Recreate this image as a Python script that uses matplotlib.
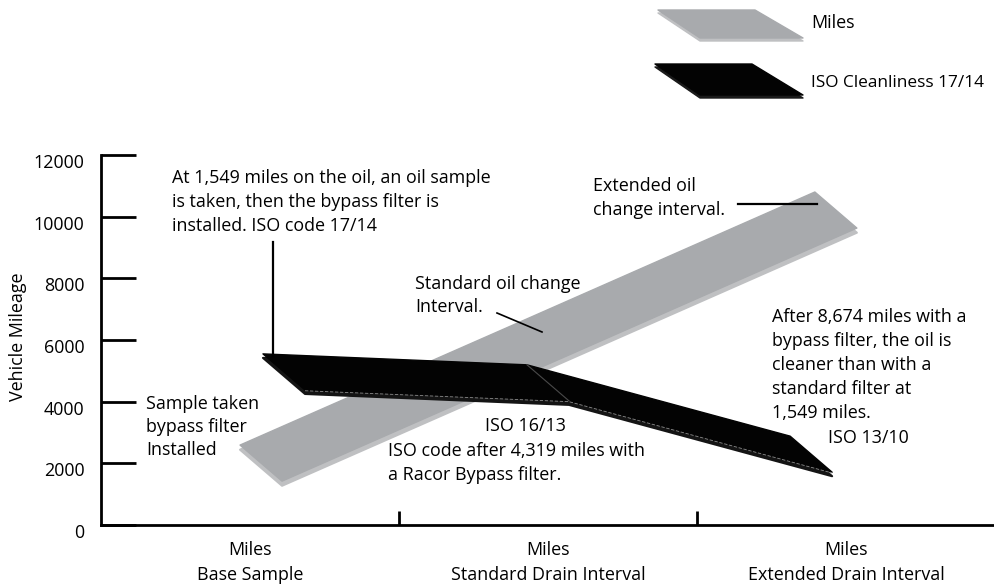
import numpy as np
import matplotlib.pyplot as plt
from matplotlib.patches import Polygon
from matplotlib.transforms import ScaledTranslation

plt.rcParams['font.family'] = ['Open Sans', 'DejaVu Sans']
FS = 12.9
plt.rcParams['font.size'] = FS

# Daten
categories = ["Miles\nBase Sample", "Miles\nStandard Drain Interval", "Miles\nExtended Drain Interval"]
miles = [1850, 6100, 10360]          # graues Band
iso_clean = [5010, 4610, 1990]       # schwarzes Band (ISO Cleanliness)
yticks = [0, 2000, 4000, 6000, 8000, 10000, 12000]

W, H = 995, 586
fig = plt.figure(figsize=(W / 100, H / 100), dpi=100)
ax = fig.add_axes([101 / W, 61 / H, 894 / W, 370 / H])
ax.set_xlim(-0.5, 2.5)
ax.set_ylim(0, 12000)

# Tiefe des 3D-Bandes (Daten-Einheiten)
DX, DY = 0.141, 1170


def ribbon(xs, ys, inset_l, inset_r, top, rim, thick, z):
    xs = np.array(xs, float)
    ys = np.array(ys, float)
    x0 = xs[0] + inset_l
    x1 = xs[-1] - inset_r
    cx = np.concatenate([[x0], xs[1:-1], [x1]])
    cy = np.interp(cx, xs, ys)
    fx, fy = cx + DX / 2, cy - DY / 2
    bx, by = cx - DX / 2, cy + DY / 2
    px = np.concatenate([bx, fx[::-1]])
    py = np.concatenate([by, fy[::-1]])
    ax.add_patch(Polygon(np.c_[px, py - thick], closed=True, fc=rim, ec=rim,
                         lw=1.5, joinstyle='round', zorder=z))
    ax.add_patch(Polygon(np.c_[px, py], closed=True, fc=top, ec=top,
                         lw=1.0, joinstyle='round', zorder=z + 0.1))
    return bx, by, fx, fy


ribbon([0, 1, 2], miles, 0.037, 0.034, '#a8aaad', '#bfc0c2', 150, 2)
bx, by, fx, fy = ribbon([0, 1, 2], iso_clean, 0.114, 0.117, '#030303', '#141414', 130, 3)
# Knick im schwarzen Band
ax.plot([bx[1], fx[1]], [by[1], fy[1]], color='#4a4a4a', lw=0.8, zorder=3.5)
ax.plot(fx, fy - 25, color='#8a8a8a', lw=0.6, ls=(0, (4, 2)), zorder=3.5)

# Achsen
for s in ['top', 'right']:
    ax.spines[s].set_visible(False)
ax.spines['left'].set_linewidth(2)
ax.spines['bottom'].set_linewidth(2)
ax.spines['left'].set_bounds(0, 12000)
ax.set_yticks(yticks)
ax.set_yticklabels([str(v) for v in yticks])
ax.tick_params(axis='y', direction='in', length=25, width=2, pad=12, labelsize=FS)
ax.set_xticks([0.5, 1.5])
ax.set_xticklabels([])
ax.tick_params(axis='x', direction='in', length=10, width=2)
for lab in ax.get_yticklabels():
    lab.set_transform(lab.get_transform() + ScaledTranslation(0, -0.06, fig.dpi_scale_trans))
    lab.set_verticalalignment('center_baseline')

for i, c in enumerate(categories):
    top, bot = c.split("\n")
    fig.text((101 + 298 * (i + 0.5)) / W, 1 - 555 / H, top, ha='center', va='baseline', fontsize=FS)
    fig.text((101 + 298 * (i + 0.5)) / W, 1 - 580 / H, bot, ha='center', va='baseline', fontsize=FS)

fig.text(18 / W, 1 - 337 / H, "Vehicle Mileage", rotation=90, ha='center', va='center', fontsize=FS)


def lines(x, base, txt, step=24, ha='left'):
    for k, t in enumerate(txt.split("\n")):
        fig.text(x / W, 1 - (base + k * step) / H, t, ha=ha, va='baseline', fontsize=FS)


def seg(x0, y0, x1, y1, lw=1.6):
    fig.add_artist(plt.Line2D([x0 / W, x1 / W], [1 - y0 / H, 1 - y1 / H], color='black', lw=lw))


lines(172, 183, "At 1,549 miles on the oil, an oil sample\nis taken, then the bypass filter is\ninstalled. ISO code 17/14")
seg(273, 242, 273, 356)
lines(593, 191, "Extended oil\nchange interval.")
seg(738, 204, 817, 204)
lines(415, 289, "Standard oil change\nInterval.", step=23)
seg(497, 313, 542, 332, lw=1.2)
lines(772, 322, "After 8,674 miles with a\nbypass filter, the oil is\ncleaner than with a\nstandard filter at\n1,549 miles.")
lines(828, 443, "ISO 13/10")
lines(146, 409, "Sample taken\nbypass filter\nInstalled", step=23)
lines(485, 431, "ISO 16/13")
lines(388, 456, "ISO code after 4,319 miles with\na Racor Bypass filter.")

# Legende
def slab(pts, top, rim, thick):
    p = np.array(pts, float)
    pr = p.copy()
    pr[:, 1] += thick
    for q, col in [(pr, rim), (p, top)]:
        fig.add_artist(Polygon(np.c_[q[:, 0] / W, 1 - q[:, 1] / H], closed=True,
                               fc=col, ec=col, lw=1, joinstyle='round'))


slab([(658, 10), (755, 10), (803, 38), (700, 38)], '#a8aaad', '#bfc0c2', 3)
slab([(655, 64), (752, 64), (803, 95), (700, 95)], '#030303', '#1a1a1a', 3)
fig.text(811 / W, 1 - 28 / H, "Miles", ha='left', va='baseline', fontsize=FS)
fig.text(811 / W, 1 - 87 / H, "ISO Cleanliness 17/14", ha='left', va='baseline', fontsize=12.4)

fig.savefig("out.png", dpi=100)
